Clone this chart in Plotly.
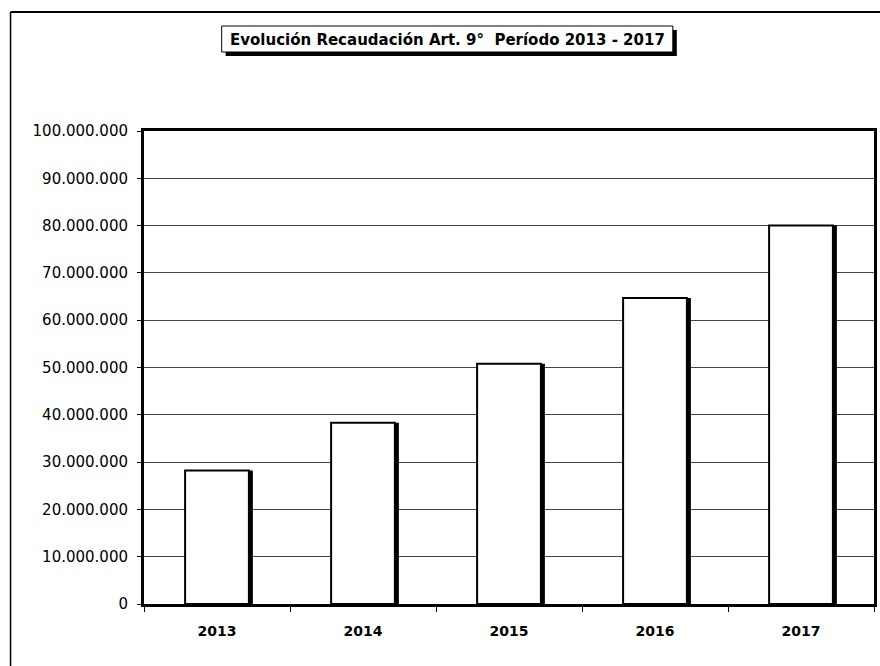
import plotly.graph_objects as go

years = ["2013", "2014", "2015", "2016", "2017"]
recaudacion = [28200000, 38300000, 50800000, 64700000, 80000000]
title_text = "Evolución Recaudación Art. 9°  Período 2013 - 2017"
y_ticks = list(range(0, 100000001, 10000000))

W, H = 880, 666
L, R, T, B = 144, 3, 131, 62
pw, ph = W - L - R, H - T - B

def px(x):
    return (x - L) / pw

def py(y):
    return (H - B - y) / ph

bar_w = 0.437
shadow_dx = 4 / (pw / len(years))

fig = go.Figure()
fig.add_trace(go.Bar(
    x=years, y=recaudacion, width=bar_w, offset=-bar_w / 2 + shadow_dx,
    marker=dict(color="black", line=dict(width=0)), hoverinfo="skip", showlegend=False,
))
fig.add_trace(go.Bar(
    x=years, y=recaudacion, width=bar_w, offset=-bar_w / 2,
    marker=dict(color="white", line=dict(color="black", width=2)), showlegend=False,
))

fig.update_layout(
    width=W, height=H,
    margin=dict(l=L, r=R, t=T, b=B, pad=0),
    paper_bgcolor="white", plot_bgcolor="white",
    barmode="overlay",
    separators=",.",
    font=dict(family="DejaVu Sans", color="black"),
    xaxis=dict(
        type="category", showgrid=False, showline=True, linecolor="black", linewidth=3,
        mirror=True, ticks="outside", ticklen=5, tickcolor="black", tickwidth=1,
        tickson="boundaries",
        tickfont=dict(family="DejaVu Sans", size=14, color="black", weight="bold"),
        ticklabelstandoff=12,
    ),
    yaxis=dict(
        range=[0, 100000000], tickvals=y_ticks, tickformat=",.0f",
        showgrid=True, gridcolor="#444", gridwidth=1,
        showline=True, linecolor="black", linewidth=3, mirror=True,
        ticks="outside", ticklen=4, tickcolor="black", tickwidth=1,
        tickfont=dict(family="DejaVu Sans", size=15, color="black"),
        ticklabelstandoff=6, zeroline=False,
    ),
    shapes=[
        # outer frame
        dict(type="line", xref="paper", yref="paper", x0=px(10), x1=px(W + 5), y0=py(12), y1=py(12),
             line=dict(color="black", width=2)),
        dict(type="line", xref="paper", yref="paper", x0=px(10), x1=px(10), y0=py(12), y1=py(H + 5),
             line=dict(color="black", width=1.5)),
        # title box shadow
        dict(type="rect", xref="paper", yref="paper", x0=px(226), x1=px(679), y0=py(30), y1=py(56),
             fillcolor="black", line=dict(width=0)),
        # title box
        dict(type="rect", xref="paper", yref="paper", x0=px(222), x1=px(675), y0=py(26), y1=py(52),
             fillcolor="white", line=dict(color="black", width=1)),
    ],
    annotations=[
        dict(text=title_text, xref="paper", yref="paper", x=px(448.5), y=py(40), xanchor="center",
             yanchor="middle", showarrow=False,
             font=dict(family="DejaVu Sans", size=15, color="black", weight="bold")),
    ],
)

fig.write_html("out.html", config={"displayModeBar": False},
               post_script="document.body.style.margin='0';")
